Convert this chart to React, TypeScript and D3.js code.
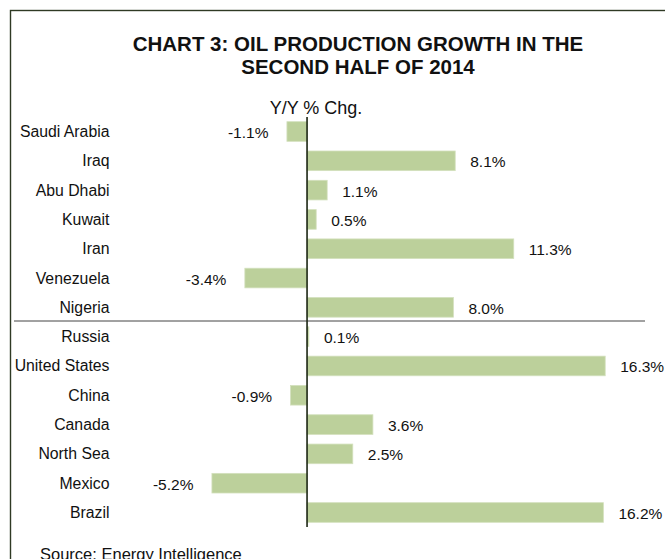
import * as d3 from "d3";
import { useEffect, useRef } from "react";

const countries = [
  "Saudi Arabia", "Iraq", "Abu Dhabi", "Kuwait", "Iran", "Venezuela", "Nigeria",
  "Russia", "United States", "China", "Canada", "North Sea", "Mexico", "Brazil",
];
const growth = [-1.1, 8.1, 1.1, 0.5, 11.3, -3.4, 8.0, 0.1, 16.3, -0.9, 3.6, 2.5, -5.2, 16.2];
// OPEC members come first, then the line
const opecCount = 7;

const titleLines = ["CHART 3: OIL PRODUCTION GROWTH IN THE", "SECOND HALF OF 2014"];
const subtitle = "Y/Y % Chg.";
const source = "Source: Energy Intelligence";

const W = 665;
const H = 559;

const App = () => {
  const ref = useRef(null);

  useEffect(() => {
    const svg = d3.select(ref.current);
    svg.selectAll("*").remove();

    const data = countries.map((c, i) => ({ name: c, value: growth[i] }));

    const x = d3.scaleLinear().domain([-6, 18]).range([197.3, 636.3]);
    const y = d3.scaleBand().domain(countries).range([117, 527]).paddingInner(0.33).paddingOuter(0.16);

    const font = "Arial, 'Liberation Sans', sans-serif";

    // frame
    svg.append("rect")
      .attr("x", 10.5).attr("y", 10.5)
      .attr("width", 700).attr("height", 600)
      .attr("fill", "none").attr("stroke", "#2f3a24").attr("stroke-width", 1.4);

    svg.selectAll(".title")
      .data(titleLines)
      .enter().append("text")
      .attr("x", 358).attr("y", (d, i) => 51 + i * 23)
      .attr("text-anchor", "middle")
      .style("font-family", font).style("font-weight", "bold").style("font-size", "20.5px")
      .attr("fill", "#111")
      .text(d => d);

    svg.append("text")
      .attr("x", 316).attr("y", 113.5)
      .attr("text-anchor", "middle")
      .style("font-family", font).style("font-size", "18px")
      .attr("fill", "#111")
      .text(subtitle);

    const step = y.step();
    const half = y.bandwidth() / 2;

    svg.selectAll(".bar")
      .data(data)
      .enter().append("rect")
      .attr("x", d => x(Math.min(0, d.value)))
      .attr("y", d => y(d.name))
      .attr("width", d => Math.abs(x(d.value) - x(0)))
      .attr("height", y.bandwidth())
      .attr("fill", "#bcd09b")
      .attr("stroke", "#d3e0bd").attr("stroke-width", 0.8);

    svg.selectAll(".cat")
      .data(data)
      .enter().append("text")
      .attr("x", 109.5)
      .attr("y", d => y(d.name) + half + 5.5)
      .attr("text-anchor", "end")
      .style("font-family", font).style("font-size", "15.8px")
      .attr("fill", "#111")
      .text(d => d.name);

    svg.selectAll(".val")
      .data(data)
      .enter().append("text")
      .attr("x", d => d.value >= 0 ? x(d.value) + 15 : x(d.value) - 18.5)
      .attr("y", d => y(d.name) + half + 6.5)
      .attr("text-anchor", d => d.value >= 0 ? "start" : "end")
      .style("font-family", font).style("font-size", "15.5px")
      .attr("fill", "#111")
      .text(d => d.value.toFixed(1) + "%");

    // OPEC / non-OPEC divider
    const sepY = y(countries[opecCount]) - (step - y.bandwidth()) / 2 - 1;
    svg.append("line")
      .attr("x1", 14).attr("x2", 645)
      .attr("y1", sepY).attr("y2", sepY)
      .attr("stroke", "#444").attr("stroke-width", 1);

    svg.append("line")
      .attr("x1", x(0)).attr("x2", x(0))
      .attr("y1", 117).attr("y2", 527)
      .attr("stroke", "#1c2614").attr("stroke-width", 1.6);

    svg.append("text")
      .attr("x", 40).attr("y", 560)
      .style("font-family", font).style("font-size", "16.5px")
      .attr("fill", "#111")
      .text(source);
  }, []);

  return (
    <svg ref={ref} width={W} height={H}
      style={{ position: "fixed", left: 0, top: 0, background: "#fff" }} />
  );
};

export default App;
